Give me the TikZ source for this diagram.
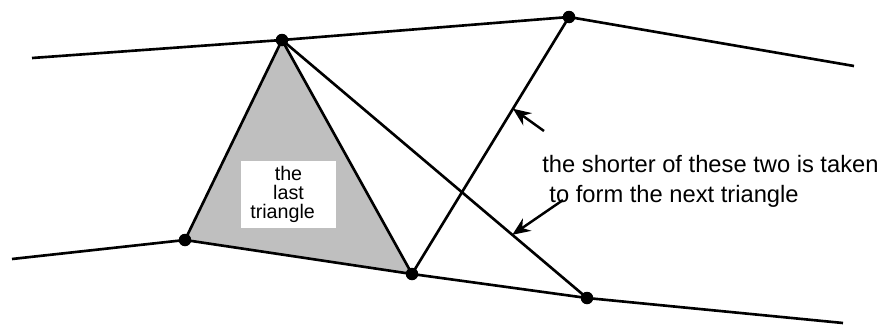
\documentclass[tikz,border=0pt]{standalone}
\usepackage{fontspec}
\setmainfont{Liberation Sans}
\usepackage{tikz}
\usetikzlibrary{arrows.meta,calc}
\definecolor{TriGray}{HTML}{BFBFBF}

\begin{document}
\begin{tikzpicture}[x=0.02cm, y=-0.02cm, dot/.style={circle, fill=black, inner sep=0pt, minimum size=0.25cm}, edge/.style={line width=1.5pt, line join=round}, pointer/.style={-{Stealth[length=3.6mm, width=3mm, inset=1.2mm]}, line width=1.4pt}, note/.style={font=\fontsize{13.5}{17}\selectfont, align=left, inner sep=0pt}, tag/.style={fill=white, minimum width=1.9cm, minimum height=1.34cm, align=center, font=\fontsize{11.2}{10.8}\selectfont, inner sep=0pt}]
\useasboundingbox (0,0) rectangle (883,325);
% upper chain
\coordinate (ul) at (32,58); \coordinate (A) at (282,40); \coordinate (B) at (569,17); \coordinate (ur) at (854,66);
% lower chain
\coordinate (ll) at (12,259); \coordinate (C) at (185,240); \coordinate (D) at (412,274); \coordinate (E) at (587,298); \coordinate (lr) at (843,323);
\fill[TriGray] (A) -- (C) -- (D) -- cycle;
\draw[edge] (ul) -- (A) -- (B) -- (ur);
\draw[edge] (ll) -- (C) -- (D) -- (E) -- (lr);
\draw[edge] (A) -- (C); \draw[edge] (A) -- (D); \draw[edge] (A) -- (E); \draw[edge] (B) -- (D);
\foreach \p in {A,B,C,D,E} \node[dot] (dot\p) at (\p) {};
\node[tag] (last) at (288.5,194.5) {the\\last\\triangle\hspace*{0.6em}};
\node[note, anchor=north west] (shorter) at (542,155) {the shorter of these two is taken\\\hspace*{0.3em}to form the next triangle};
% the two candidate edges
\coordinate (tipBD) at ($(B)!0.357!(D)$); \coordinate (tailBD) at (544,131);
\coordinate (tipAE) at ($(A)!0.755!(E)$); \coordinate (tailAE) at (563,200);
\draw[pointer] (tailBD) -- (tipBD);
\draw[pointer] (tailAE) -- (tipAE);
\end{tikzpicture}
\end{document}
